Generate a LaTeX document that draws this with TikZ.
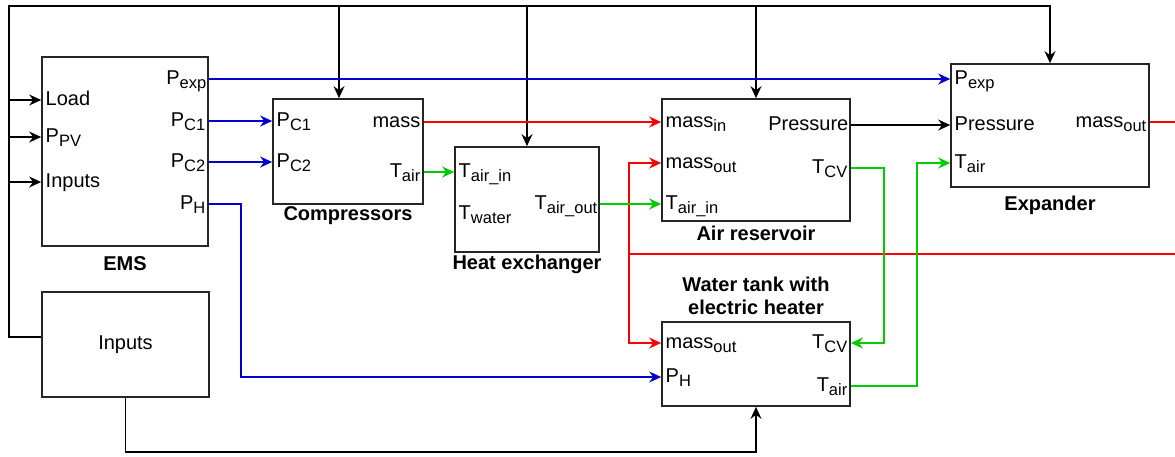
\documentclass[tikz,border=0pt]{standalone}
\usepackage{fontspec}
\setmainfont{Liberation Sans}
\usepackage{xcolor}
\usepackage{tikz}
\usetikzlibrary{positioning,arrows.meta,calc}

\definecolor{wireblue}{RGB}{0,0,204}
\definecolor{wirered}{RGB}{255,0,0}
\definecolor{wiregreen}{RGB}{0,204,0}
\newcommand{\subtxt}[1]{\raisebox{-4.5pt}{\fontsize{16.5}{16.5}\selectfont #1}}

\begin{document}
\begin{tikzpicture}[x=1pt, y=-1pt,
    every node/.style={font=\fontsize{20}{23}\selectfont},
    blk/.style={draw=black!85, line width=1.7pt, inner sep=0pt},
    port/.style={inner sep=1.5pt, text height=14.5pt, text depth=4.5pt},
    title/.style={font=\fontsize{20}{23}\selectfont\bfseries, align=center},
    wire/.style={line width=1.7pt},
    arr/.style={wire, -{Stealth[length=12pt, width=11pt, inset=4pt]}}]

    \useasboundingbox (0,0) rectangle (1175,456);

    \node[blk, minimum width=166pt, minimum height=189pt] (ems) at (125,151.5) {};
    \node[blk, minimum width=167pt, minimum height=105pt] (inp) at (125.5,344.5) {Inputs};
    \node[blk, minimum width=150pt, minimum height=105pt] (comp) at (348,151.5) {};
    \node[blk, minimum width=144pt, minimum height=105pt] (hx) at (527,199.5) {};
    \node[blk, minimum width=188pt, minimum height=122pt] (res) at (756,160) {};
    \node[blk, minimum width=198pt, minimum height=123pt] (exp) at (1050,125.5) {};
    \node[blk, minimum width=188pt, minimum height=84pt] (tank) at (756,364) {};

    \node[title] (emsT) at (125,264) {EMS};
    \node[title] (compT) at (348,216) {Compressors};
    \node[title] (hxT) at (527,264) {Heat exchanger};
    \node[title] (resT) at (756,233) {Air reservoir};
    \node[title] (expT) at (1050,205) {Expander};
    \node[title] (tankT) at (756,296) {Water tank with\\electric heater};

    \node[port, anchor=west] (emsLoad) at (44,100) {Load};
    \node[port, anchor=west] (emsPpv) at (44,137) {P\subtxt{PV}};
    \node[port, anchor=west] (emsInp) at (44,182) {Inputs};
    \node[port, anchor=east] (emsPexp) at (208,79) {P\subtxt{exp}};
    \node[port, anchor=east] (emsPc1) at (207,121) {P\subtxt{C1}};
    \node[port, anchor=east] (emsPc2) at (207,162) {P\subtxt{C2}};
    \node[port, anchor=east] (emsPh) at (207,204) {P\subtxt{H}};

    \node[port, anchor=west] (compPc1) at (275,121) {P\subtxt{C1}};
    \node[port, anchor=west] (compPc2) at (275,162) {P\subtxt{C2}};
    \node[port, anchor=east] (compMass) at (422,122) {mass};
    \node[port, anchor=east] (compTair) at (422,172) {T\subtxt{air}};

    \node[port, anchor=west] (hxTin) at (457,172) {T\subtxt{air\_in}};
    \node[port, anchor=west] (hxTw) at (457,214) {T\subtxt{water}};
    \node[port, anchor=east] (hxTout) at (599,204) {T\subtxt{air\_out}};

    \node[port, anchor=west] (resMin) at (664,122) {mass\subtxt{in}};
    \node[port, anchor=west] (resMout) at (664,163) {mass\subtxt{out}};
    \node[port, anchor=west] (resTin) at (664,204) {T\subtxt{air\_in}};
    \node[port, anchor=east] (resP) at (850,125) {Pressure};
    \node[port, anchor=east] (resTcv) at (849,168) {T\subtxt{CV}};

    \node[port, anchor=west] (expPexp) at (953,79) {P\subtxt{exp}};
    \node[port, anchor=west] (expP) at (953,125) {Pressure};
    \node[port, anchor=west] (expTair) at (953,163) {T\subtxt{air}};
    \node[port, anchor=east] (expMout) at (1148,122) {mass\subtxt{out}};

    \node[port, anchor=west] (tankMout) at (664,343) {mass\subtxt{out}};
    \node[port, anchor=west] (tankPh) at (664,377) {P\subtxt{H}};
    \node[port, anchor=east] (tankTcv) at (849,343) {T\subtxt{CV}};
    \node[port, anchor=east] (tankTair) at (849,386) {T\subtxt{air}};

    \coordinate (corner) at (9,6);
    \coordinate (bot) at (0,452);
    \coordinate (rsplit) at (629,254);
    \coordinate (redge) at (1175,254);

    \draw[arr] ([yshift=7.5pt]inp.west) -| (corner) -| (exp.north);
    \draw[arr] ([xshift=-9pt]comp.north |- corner) -- ([xshift=-9pt]comp.north);
    \draw[arr] (hx.north |- corner) -- (hx.north);
    \draw[arr] (res.north |- corner) -- (res.north);
    \foreach \p in {emsLoad, emsPpv, emsInp}
        \draw[arr] (corner |- \p) -- (ems.west |- \p);
    \draw[arr] (inp.south) -- (inp.south |- bot) -| (tank.south);

    \draw[arr, wireblue] (ems.east |- emsPexp) -- (exp.west |- expPexp);
    \draw[arr, wireblue] (ems.east |- emsPc1) -- (comp.west |- compPc1);
    \draw[arr, wireblue] (ems.east |- emsPc2) -- (comp.west |- compPc2);
    \draw[arr, wireblue] (ems.east |- emsPh) -- ++(32,0) |- (tank.west |- tankPh);

    \draw[arr, wirered] (comp.east |- compMass) -- (res.west |- resMin);
    \draw[wire, wirered] (exp.east |- expMout) -- (redge |- expMout);
    \draw[wire, wirered] (redge) -- (rsplit);
    \draw[arr, wirered] (rsplit) |- (res.west |- resMout);
    \draw[arr, wirered] (rsplit) |- (tank.west |- tankMout);

    \draw[arr, wiregreen] (comp.east |- compTair) -- (hx.west |- hxTin);
    \draw[arr, wiregreen] (hx.east |- hxTout) -- (res.west |- resTin);
    \draw[arr, wiregreen] (res.east |- resTcv) -- ++(33,0) |- (tank.east |- tankTcv);
    \draw[arr, wiregreen] (tank.east |- tankTair) -- ++(66,0) |- (exp.west |- expTair);

    \draw[arr] (res.east |- resP) -- (exp.west |- expP);
\end{tikzpicture}
\end{document}
